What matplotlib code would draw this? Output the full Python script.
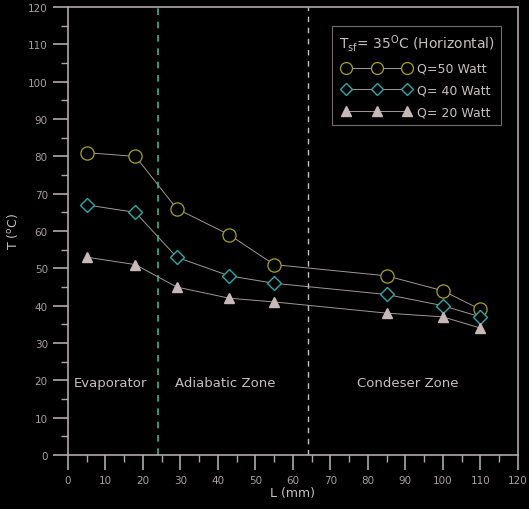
import matplotlib
matplotlib.use("Agg")
import matplotlib.pyplot as plt
import numpy as np

# data
L_mm = [5, 18, 29, 43, 55, 85, 100, 110]
T_q50 = [81, 80, 66, 59, 51, 48, 44, 39]
T_q40 = [67, 65, 53, 48, 46, 43, 40, 37]
T_q20 = [53, 51, 45, 42, 41, 38, 37, 34]
x_ticks = list(range(0, 121, 10))
y_ticks = list(range(0, 121, 10))
zone_bounds = [24, 64]
zone_names = ["Evaporator", "Adiabatic Zone", "Condeser Zone"]
zone_label_x = [1.5, 28.5, 77]

fg = '#c8c0c0'
line_c = '#a09898'

fig = plt.figure(figsize=(5.29, 5.10), dpi=100, facecolor='black')
ax = fig.add_axes([0.1285, 0.106, 0.8505, 0.878], facecolor='black')

ax.plot(L_mm, T_q50, '-', color=line_c, lw=0.7, marker='o', ms=9.5,
        mfc='black', mec='#a8a028', mew=0.9, label='Q=50 Watt')
ax.plot(L_mm, T_q40, '-', color=line_c, lw=0.7, marker='D', ms=7,
        mfc='black', mec='#30a8a8', mew=1.0, label='Q= 40 Watt')
ax.plot(L_mm, T_q20, '-', color=line_c, lw=0.7, marker='^', ms=7.5,
        mfc='#c8b8b8', mec='#c8b8b8', mew=1.0, label='Q= 20 Watt')

ax.axvline(zone_bounds[0], color='#40b090', lw=1.2, ls=(0, (4, 4)))
ax.axvline(zone_bounds[1], color='#c8c0c0', lw=1.0, ls=(0, (4, 4)))

for xx, name in zip(zone_label_x, zone_names):
    ax.text(xx, 19.5, name, color=fg, fontsize=9.5, ha='left', va='center')

ax.set_xlim(0, 120)
ax.set_ylim(0, 120)
ax.set_xticks(x_ticks)
ax.set_yticks(y_ticks)
ax.set_xticks(np.arange(5, 120, 10), minor=True)
ax.set_yticks(np.arange(5, 120, 10), minor=True)
ax.tick_params(which='major', direction='out', length=11, width=1.2,
               colors='#b0a8a8', labelsize=7.5, labelcolor='#a8a0a0')
ax.tick_params(which='minor', direction='out', length=5, width=1.0,
               colors='#b0a8a8')
for s in ax.spines.values():
    s.set_color('#b0a8a8')
    s.set_linewidth(1.2)

ax.set_xlabel('L (mm)', color=fg, fontsize=9, labelpad=1)
ax.set_ylabel('T ($^{\\rm o}$C)', color=fg, fontsize=9, labelpad=6)

leg = ax.legend(loc='upper right', bbox_to_anchor=(0.962, 0.958),
                borderaxespad=0, numpoints=3,
                title='T$_{\\rm sf}$= 35$^{\\rm O}$C (Horizontal)',
                fontsize=9, title_fontsize=10, frameon=True, fancybox=False,
                facecolor='black', edgecolor='#908888', labelcolor=fg,
                handlelength=5.5, handletextpad=0.5, borderpad=0.5,
                labelspacing=0.7, markerscale=0.9)
leg.get_title().set_color(fg)
leg.get_frame().set_linewidth(0.8)

fig.savefig('out.png', dpi=100, facecolor='black')
